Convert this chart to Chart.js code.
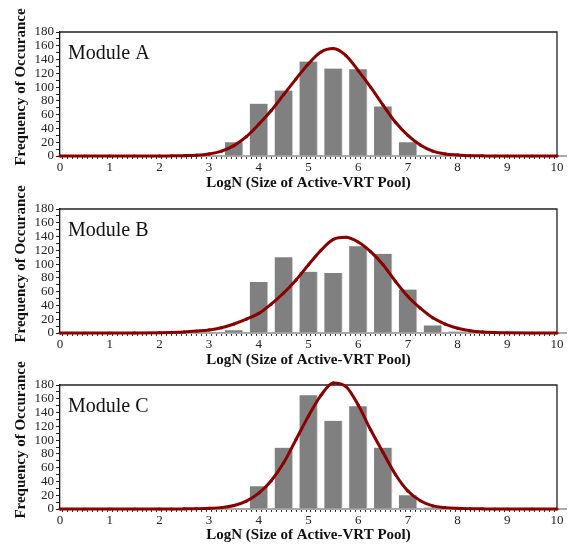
<!DOCTYPE html>
<html>
<head>
<meta charset="utf-8">
<script src="https://cdn.jsdelivr.net/npm/chart.js@4.4.1/dist/chart.umd.min.js"></script>
<style>
  html, body { margin: 0; padding: 0; background: #fff; overflow: hidden; }
  #wrap { position: relative; width: 570px; height: 546px; }
  .panel { position: absolute; left: 0; width: 570px; }
</style>
</head>
<body>
<div id="wrap">
  <div class="panel" style="top:0px;height:194px"><canvas id="cA"></canvas></div>
  <div class="panel" style="top:176px;height:195px"><canvas id="cB"></canvas></div>
  <div class="panel" style="top:352px;height:194px"><canvas id="cC"></canvas></div>
</div>
<script>
// x positions of the fitted curve points
var curveX = [0, 0.5, 1, 1.5, 2, 2.25, 2.5, 2.75, 3, 3.25, 3.5, 3.75, 4, 4.25, 4.5, 4.75, 5, 5.25, 5.5, 5.75,
              6, 6.25, 6.5, 6.75, 7, 7.25, 7.5, 7.75, 8, 8.25, 8.5, 8.75, 9, 9.5, 10];

var curveA = [0, 0, 0, 0, 0, 0.2, 0.5, 1.2, 3, 7, 15, 28, 46, 66, 89, 112, 134, 151, 156, 146,
              124, 100, 74, 49, 30, 16, 7, 3, 1.5, 0.5, 0.2, 0, 0, 0, 0];
var curveB = [0, 0, 0, 0.1, 0.4, 0.8, 1.5, 2.8, 4.4, 7.7, 13, 20, 28.5, 42, 58, 77, 99, 120, 136, 139,
              132, 118, 99, 75, 53, 36, 22, 13, 7, 3.4, 1.5, 0.7, 0.3, 0, 0];
var curveC = [0, 0, 0, 0, 0, 0, 0.2, 0.5, 1, 2, 5, 11.5, 23, 41, 67, 101, 135, 165, 183, 178,
              151, 115, 82, 50, 26, 12, 4.5, 2, 1, 0.5, 0.2, 0, 0, 0, 0];

// histogram bins
var barXA = [3.5, 4, 4.5, 5, 5.5, 6, 6.5, 7, 7.5];
var barA  = [20, 76, 95, 137, 127, 126, 72, 20, 1];
var barXB = [3.5, 4, 4.5, 5, 5.5, 6, 6.5, 7, 7.5, 8];
var barB  = [4, 74, 110, 89, 87, 126, 115, 63, 11, 2];
var barXC = [4, 4.5, 5, 5.5, 6, 6.5, 7, 7.5];
var barC  = [33, 89, 165, 128, 149, 89, 20, 2];

var xTitle = 'LogN (Size of Active-VRT Pool)';
var yTitle = 'Frequency of Occurance';

var SERIF = '"Liberation Serif", "Times New Roman", serif';

function pairs(xs, ys) {
  var out = [];
  for (var i = 0; i < xs.length; i++) out.push({x: xs[i], y: ys[i]});
  return out;
}

// frame, extended x axis line, panel label and y title
var decor = {
  id: 'decor',
  beforeDatasetsDraw: function(chart) {
    var a = chart.chartArea, ctx = chart.ctx;
    ctx.save();
    ctx.strokeStyle = '#222';
    ctx.lineWidth = 1.3;
    ctx.beginPath();
    ctx.moveTo(a.left, a.top);
    ctx.lineTo(a.right, a.top);
    ctx.lineTo(a.right, a.bottom);
    ctx.stroke();
    ctx.strokeStyle = '#aaa';
    ctx.lineWidth = 2;
    ctx.beginPath();
    ctx.moveTo(a.left, a.bottom);
    ctx.lineTo(a.right + 10, a.bottom);
    ctx.stroke();
    ctx.fillStyle = '#111';
    ctx.font = '20px ' + SERIF;
    ctx.textBaseline = 'alphabetic';
    ctx.textAlign = 'left';
    ctx.fillText(chart.options.plugins.decor.label, a.left + 8, a.top + 27);
    ctx.font = 'bold 15px ' + SERIF;
    ctx.translate(21, a.bottom - 69);
    ctx.rotate(-Math.PI / 2);
    ctx.textAlign = 'center';
    ctx.textBaseline = 'middle';
    ctx.fillText(yTitle, 0, 0);
    ctx.restore();
  }
};

function makeChart(id, label, barX, bars, curve, padTop, xHeight) {
  return new Chart(document.getElementById(id), {
    type: 'bar',
    data: {
      datasets: [{
        type: 'line',
        data: pairs(curveX, curve),
        borderColor: '#8b0000',
        backgroundColor: '#8b0000',
        borderWidth: 3,
        pointRadius: 1.6,
        pointBorderWidth: 0,
        cubicInterpolationMode: 'monotone',
        clip: false,
        order: 0
      }, {
        type: 'bar',
        data: pairs(barX, bars),
        backgroundColor: '#808080',
        borderColor: '#c8c8c8',
        borderWidth: {top: 0, left: 0, right: 1, bottom: 0},
        barThickness: 18,
        order: 1
      }]
    },
    options: {
      responsive: true,
      maintainAspectRatio: false,
      animation: false,
      layout: { padding: { top: padTop, right: 13, left: 0, bottom: 0 } },
      plugins: {
        legend: { display: false },
        tooltip: { enabled: false },
        decor: { label: label }
      },
      scales: {
        x: {
          type: 'linear',
          min: 0, max: 10,
          offset: false,
          afterFit: function(s) { s.height = xHeight; },
          border: { display: false },
          grid: { drawOnChartArea: false, drawTicks: true, tickLength: 3, color: '#333' },
          ticks: {
            stepSize: 0.1,
            maxTicksLimit: 200,
            autoSkip: false,
            maxRotation: 0, minRotation: 0,
            padding: 1,
            color: '#222',
            font: { family: SERIF, size: 13 },
            callback: function(v) {
              return Math.abs(v - Math.round(v)) < 1e-6 ? String(Math.round(v)) : '';
            }
          },
          title: {
            display: true,
            text: xTitle,
            color: '#111',
            font: { family: SERIF, size: 15, weight: 'bold' },
            padding: { top: 0, bottom: 2 }
          }
        },
        y: {
          min: 0, max: 180,
          afterFit: function(s) { s.width = 60; },
          border: { display: true, color: '#111', width: 1.3 },
          grid: { drawOnChartArea: false, drawTicks: true, tickLength: 4, color: '#222' },
          ticks: {
            stepSize: 10,
            autoSkip: false,
            padding: 2,
            color: '#222',
            font: { family: SERIF, size: 13 },
            callback: function(v) { return v % 20 === 0 ? String(v) : ''; }
          }
        }
      }
    },
    plugins: [decor]
  });
}

makeChart('cA', 'Module A', barXA, barA, curveA, 32, 38);
makeChart('cB', 'Module B', barXB, barB, curveB, 33, 38);
makeChart('cC', 'Module C', barXC, barC, curveC, 33, 37);
</script>
</body>
</html>
